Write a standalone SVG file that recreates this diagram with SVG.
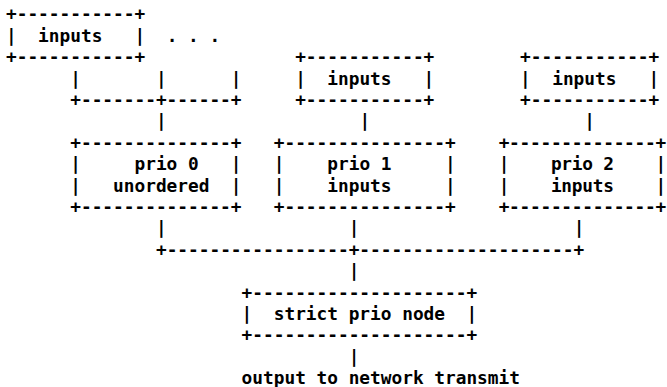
<svg xmlns="http://www.w3.org/2000/svg" width="667" height="387" viewBox="0 0 667 387">
  <style>
    text { font-family: "DejaVu Sans Mono", "Liberation Mono", monospace; font-weight: bold; font-size: 17.8px; fill: #000; white-space: pre; }
    .tight { letter-spacing: 0; }
  </style>
  <rect width="667" height="387" fill="#fff"/>

  <!-- input boxes -->
  <g id="inputs-a" xml:space="preserve">
    <text x="6.0" y="20.3">+-----------+</text>
    <text x="6.0" y="41.7">|  inputs   |</text>
    <text x="6.0" y="63.1">+-----------+</text>
  </g>
  <g id="more-inputs">
    <text x="166.65" y="41.7" xml:space="preserve">. . .</text>
  </g>
  <g id="inputs-b" xml:space="preserve">
    <text x="295.17" y="63.1">+-----------+</text>
    <text x="295.17" y="84.5">|  inputs   |</text>
    <text x="295.17" y="105.9">+-----------+</text>
  </g>
  <g id="inputs-c" xml:space="preserve">
    <text x="520.08" y="63.1">+-----------+</text>
    <text x="520.08" y="84.5">|  inputs   |</text>
    <text x="520.08" y="105.9">+-----------+</text>
  </g>

  <!-- priority queues -->
  <g id="prio0" xml:space="preserve">
    <text x="70.26" y="148.7">+--------------+</text>
    <text x="70.26" y="170.1">|     prio 0   |</text>
    <text x="70.26" y="191.5">|   unordered  |</text>
    <text x="70.26" y="212.9">+--------------+</text>
  </g>
  <g id="prio1" xml:space="preserve">
    <text x="273.75" y="148.7">+---------------+</text>
    <text x="273.75" y="170.1">|    prio 1     |</text>
    <text x="273.75" y="191.5">|    inputs     |</text>
    <text x="273.75" y="212.9">+---------------+</text>
  </g>
  <!-- last box is set slightly tighter so its right edge stays inside the canvas -->
  <g id="prio2" xml:space="preserve">
    <text x="498.66" y="148.7" textLength="167.5" lengthAdjust="spacing">+--------------+</text>
    <text x="498.66" y="170.1" textLength="167.5" lengthAdjust="spacing">|    prio 2    |</text>
    <text x="498.66" y="191.5" textLength="167.5" lengthAdjust="spacing">|    inputs    |</text>
    <text x="498.66" y="212.9" textLength="167.5" lengthAdjust="spacing">+--------------+</text>
  </g>

  <!-- scheduler -->
  <g id="strict-prio" xml:space="preserve">
    <text x="241.62" y="298.5">+--------------------+</text>
    <text x="241.62" y="319.9">|  strict prio node  |</text>
    <text x="241.62" y="341.3">+--------------------+</text>
  </g>
  <g id="output">
    <text x="241.62" y="384.1" xml:space="preserve">output to network transmit</text>
  </g>

  <!-- connecting lines -->
  <g id="connectors" xml:space="preserve">
    <text x="70.26" y="84.5">|       |      |</text>
    <text x="70.26" y="105.9">+-------+------+</text>
    <text x="155.94" y="127.3">|</text>
    <text x="359.43" y="127.3">|</text>
    <text x="584.34" y="127.3">|</text>
    <text x="155.94" y="234.3">|</text>
    <text x="348.72" y="234.3">|</text>
    <text x="573.63" y="234.3">|</text>
    <text x="155.94" y="255.7">+-----------------+--------------------+</text>
    <text x="348.72" y="277.1">|</text>
    <text x="348.72" y="362.7">|</text>
  </g>
</svg>
